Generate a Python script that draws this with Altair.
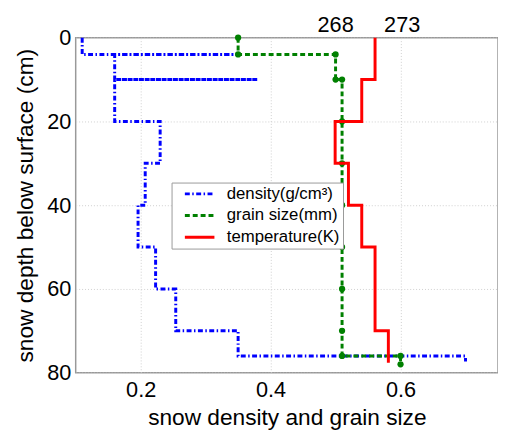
import altair as alt
import pandas as pd

# ---- data ----
series_names = ["density(g/cm³)", "grain size(mm)", "temperature(K)"]

density_depth = [0, 4, 4, 4, 10, 10, 10, 20, 20, 30, 30, 40, 40, 50, 50, 60, 60, 70, 70, 76, 76, 77.3]
density_value = [0.11, 0.11, 0.35, 0.16, 0.16, 0.38, 0.16, 0.16, 0.23, 0.23, 0.207, 0.207,
                 0.196, 0.196, 0.223, 0.223, 0.254, 0.254, 0.35, 0.35, 0.70, 0.70]

grain_depth = [0, 4, 4, 10, 10, 20, 30, 40, 50, 60, 70, 76, 76, 78]
grain_value = [0.35, 0.35, 0.50, 0.50, 0.51, 0.51, 0.51, 0.51, 0.51, 0.51, 0.51, 0.51, 0.60, 0.60]

temp_depth = [0, 10, 10, 20, 20, 30, 30, 40, 40, 50, 50, 70, 70, 77.6]
temp_value = [271, 271, 270, 270, 268, 268, 269, 269, 270, 270, 271, 271, 272, 272]

x_ticks = [0.2, 0.4, 0.6]
y_ticks = [0, 20, 40, 60, 80]
temp_ticks = [268, 273]

# ---- tables ----
rows = []
for i, (d, v) in enumerate(zip(density_depth, density_value)):
    rows.append({"series": series_names[0], "depth": d, "value": v, "i": i})
for i, (d, v) in enumerate(zip(grain_depth, grain_value)):
    rows.append({"series": series_names[1], "depth": d, "value": v, "i": i})
df_main = pd.DataFrame(rows)
df_pts = pd.DataFrame({"depth": grain_depth, "value": grain_value})
df_temp = pd.DataFrame({"series": series_names[2], "depth": temp_depth, "temp": temp_value,
                        "i": list(range(len(temp_depth)))})

FONT = "Liberation Sans"

color_scale = alt.Scale(domain=series_names, range=["#0000ff", "#008000", "#ff0000"])
dash_scale = alt.Scale(domain=series_names, range=[[5, 2.5, 1.5, 2.5], [5, 3], [1, 0]])
legend = alt.Legend(title=None, orient="none", legendX=97.3, legendY=147,
                    symbolType="M-2.5,0H2.5", symbolSize=144, symbolStrokeWidth=3,
                    labelFontSize=17, labelFont=FONT, labelColor="black",
                    padding=3, rowPadding=4, symbolOffset=17, labelOffset=19,
                    strokeColor="#999999", fillColor="white")

y_enc = alt.Y("depth:Q",
              scale=alt.Scale(domain=[0, 80], reverse=True, nice=False, zero=False),
              axis=alt.Axis(values=y_ticks, title="snow depth below surface (cm)",
                            labelPadding=5, titlePadding=9))

x_main = alt.X("value:Q",
               scale=alt.Scale(domain=[0.1, 0.75], nice=False, zero=False),
               axis=alt.Axis(values=x_ticks, format=".1f", orient="bottom",
                             title="snow density and grain size",
                             labelPadding=7, titlePadding=7))

x_temp = alt.X("temp:Q",
               scale=alt.Scale(domain=[248.5, 280.24], nice=False, zero=False),
               axis=alt.Axis(orient="top", values=temp_ticks, title=None, grid=False,
                             labelPadding=1))

main_lines = alt.Chart(df_main).mark_line(strokeWidth=3).encode(
    x=x_main, y=y_enc,
    color=alt.Color("series:N", scale=color_scale, legend=legend),
    strokeDash=alt.StrokeDash("series:N", scale=dash_scale, legend=legend),
    detail="series:N",
    order=alt.Order("i:Q"),
)

pts = alt.Chart(df_pts).mark_circle(size=40, color="#008000", opacity=1).encode(
    x=x_main, y=y_enc
)

temp_line = alt.Chart(df_temp).mark_line(strokeWidth=3).encode(
    x=x_temp, y=y_enc,
    color=alt.Color("series:N", scale=color_scale, legend=legend),
    strokeDash=alt.StrokeDash("series:N", scale=dash_scale, legend=legend),
    order=alt.Order("i:Q"),
)

chart = alt.layer(alt.layer(main_lines, pts), temp_line).resolve_scale(
    x="independent"
).properties(
    width=428.6, height=340,
    autosize=alt.AutoSizeParams(type="none"),
    padding={"left": 68.7, "top": 27, "right": 0, "bottom": 57},
    background="white",
).configure_view(
    stroke="#999999", strokeWidth=1.5
).configure_axis(
    labelFont=FONT, titleFont=FONT, labelFontSize=22, titleFontSize=23,
    labelColor="black", titleColor="black", titleFontWeight="normal",
    ticks=False, domain=False,
    gridColor="#cfcfcf", gridDash=[1, 2], gridWidth=1,
)

chart.save("out.html", embed_options={"renderer": "svg", "actions": False})
